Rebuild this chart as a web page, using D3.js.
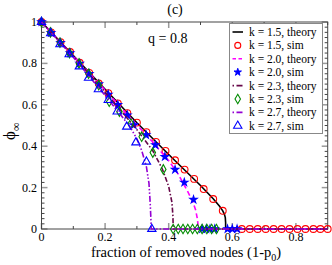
<!DOCTYPE html>
<html>
<head>
<meta charset="utf-8">
<script src="https://d3js.org/d3.v7.min.js"></script>
<style>
  body { margin: 0; background: #fff; }
  text { font-family: "Liberation Serif", "Times New Roman", serif; fill: #000; }
</style>
</head>
<body>
<div id="chart"></div>
<script>
// theory curves [x, phi]
var theory15 = [[0,1],[0.1,0.838],[0.2,0.675],[0.3,0.513],[0.4,0.36],[0.45,0.285],[0.5,0.21],[0.54,0.146],[0.56,0.11],[0.57,0.088],[0.575,0.072],[0.578,0.055],[0.579,0.03],[0.579,0],[0.9,0]];
var theory20 = [[0,1],[0.1,0.836],[0.2,0.67],[0.3,0.503],[0.35,0.42],[0.4,0.33],[0.43,0.265],[0.46,0.18],[0.475,0.135],[0.485,0.09],[0.49,0.05],[0.493,0.01],[0.493,0],[0.9,0]];
var theory23 = [[0,1],[0.1,0.835],[0.2,0.662],[0.3,0.48],[0.35,0.378],[0.38,0.29],[0.4,0.205],[0.41,0.13],[0.413,0.07],[0.414,0.02],[0.414,0],[0.9,0]];
var theory27 = [[0,1],[0.1,0.83],[0.2,0.645],[0.25,0.55],[0.28,0.49],[0.3,0.435],[0.315,0.38],[0.33,0.3],[0.338,0.22],[0.342,0.12],[0.344,0.05],[0.345,0],[0.9,0]];

// simulation points [x, phi]
var sim15 = [[0,1],[0.03,0.95],[0.06,0.903],[0.09,0.855],[0.12,0.803],[0.15,0.754],[0.18,0.703],[0.21,0.656],[0.24,0.607],[0.27,0.56],[0.30,0.514],[0.33,0.468],[0.36,0.421],[0.39,0.377],[0.42,0.332],[0.45,0.287],[0.48,0.242],[0.51,0.193],[0.54,0.145],[0.57,0.088],
  [0.63,0],[0.655,0],[0.68,0],[0.705,0],[0.73,0],[0.755,0],[0.78,0],[0.805,0],[0.83,0],[0.855,0],[0.877,0],[0.9,0]];
var sim20 = [[0,1],[0.03,0.948],[0.06,0.9],[0.09,0.85],[0.12,0.8],[0.15,0.75],[0.18,0.7],[0.21,0.65],[0.24,0.6],[0.27,0.55],[0.29,0.502],[0.329,0.454],[0.358,0.406],[0.388,0.349],[0.42,0.287],[0.449,0.225],[0.478,0.142],
  [0.505,0],[0.518,0],[0.53,0],[0.545,0],[0.585,0],[0.6,0],[0.615,0]];
var sim23 = [[0,1],[0.028,0.95],[0.058,0.9],[0.088,0.85],[0.118,0.8],[0.148,0.75],[0.18,0.695],[0.213,0.615],[0.245,0.567],[0.281,0.51],[0.315,0.446],[0.35,0.369],[0.383,0.288],
  [0.414,0],[0.43,0],[0.445,0],[0.46,0],[0.475,0],[0.49,0],[0.505,0],[0.52,0],[0.535,0],[0.55,0]];
var sim27 = [[0,1],[0.029,0.945],[0.058,0.892],[0.087,0.844],[0.119,0.785],[0.148,0.73],[0.179,0.675],[0.21,0.623],[0.238,0.567],[0.268,0.494],[0.297,0.418],[0.33,0.325],[0.347,0]];

var legendLabels = ["k = 1.5, theory","k = 1.5, sim","k = 2.0, theory","k = 2.0, sim","k = 2.3, theory","k = 2.3, sim","k = 2.7, theory","k = 2.7, sim"];
var xTicks = [0, 0.2, 0.4, 0.6, 0.8];
var yTicks = [0, 0.2, 0.4, 0.6, 0.8, 1];

var width = 332, height = 265;
var svg = d3.select("#chart").append("svg")
  .attr("width", width)
  .attr("height", height);

var x = d3.scaleLinear().domain([0, 0.9]).range([41.5, 327.7]);
var y = d3.scaleLinear().domain([0, 1]).range([229, 22]);

var axisColor = "#444";

// ticks (inward, mirrored)
var xMinor = d3.range(0, 0.901, 0.1);
var yMinor = d3.range(0, 1.0001, 0.025);
var tickG = svg.append("g").attr("stroke", axisColor);
xMinor.forEach(function(v) {
  var major = xTicks.some(function(t) { return Math.abs(t - v) < 1e-6; });
  var len = major ? 6 : 3;
  tickG.append("line").attr("x1", x(v)).attr("x2", x(v)).attr("y1", y(0)).attr("y2", y(0) - len)
    .attr("stroke-width", major ? 1.5 : 1).attr("stroke", major ? "#999" : axisColor);
  tickG.append("line").attr("x1", x(v)).attr("x2", x(v)).attr("y1", y(1)).attr("y2", y(1) + len)
    .attr("stroke-width", major ? 1.5 : 1).attr("stroke", major ? "#999" : axisColor);
});
yMinor.forEach(function(v) {
  var major = yTicks.some(function(t) { return Math.abs(t - v) < 1e-6; });
  var len = major ? 6 : 3;
  tickG.append("line").attr("y1", y(v)).attr("y2", y(v)).attr("x1", x(0)).attr("x2", x(0) + len)
    .attr("stroke-width", major ? 1.5 : 1).attr("stroke", major ? "#999" : axisColor);
  tickG.append("line").attr("y1", y(v)).attr("y2", y(v)).attr("x1", x(0.9)).attr("x2", x(0.9) - len)
    .attr("stroke-width", major ? 1.5 : 1).attr("stroke", major ? "#999" : axisColor);
});

// frame
svg.append("rect")
  .attr("x", x(0)).attr("y", y(1))
  .attr("width", x(0.9) - x(0)).attr("height", y(0) - y(1))
  .attr("fill", "none").attr("stroke", axisColor).attr("stroke-width", 1);

// tick labels
svg.append("g").selectAll("text").data(xTicks).enter().append("text")
  .attr("x", function(d) { return x(d); })
  .attr("y", 241)
  .attr("text-anchor", "middle")
  .attr("font-size", 12)
  .text(function(d) { return d === 0 ? "0" : d3.format(".1f")(d); });

svg.append("g").selectAll("text").data(yTicks).enter().append("text")
  .attr("x", 37)
  .attr("y", function(d) { return y(d) + 4; })
  .attr("text-anchor", "end")
  .attr("font-size", 12)
  .text(function(d) { return d === 0 || d === 1 ? String(d) : d3.format(".1f")(d); });

// curves
var line = d3.line().x(function(d) { return x(d[0]); }).y(function(d) { return y(d[1]); });

var styles = {
  t15: { stroke: "#000", dash: null },
  t20: { stroke: "#ff00ff", dash: "5,3" },
  t23: { stroke: "#670748", dash: "5,2,1.5,2" },
  t27: { stroke: "#9400d3", dash: "6,2,1.5,2,1.5,2" }
};

function drawLine(data, st) {
  svg.append("path").datum(data)
    .attr("d", line)
    .attr("fill", "none")
    .attr("stroke", st.stroke)
    .attr("stroke-width", 1.6)
    .attr("stroke-dasharray", st.dash);
}

var star = d3.symbol().type(d3.symbolStar).size(17);
var tri = d3.symbol().type(d3.symbolTriangle).size(30);
var dia = d3.symbol().type(d3.symbolDiamond).size(26);

function drawCircles(data) {
  svg.append("g").selectAll("circle").data(data).enter().append("circle")
    .attr("cx", function(d) { return x(d[0]); })
    .attr("cy", function(d) { return y(d[1]); })
    .attr("r", 3.4)
    .attr("fill", "none").attr("stroke", "#ff0000").attr("stroke-width", 1.1);
}
function drawSymbols(data, gen, fill, stroke) {
  svg.append("g").selectAll("path").data(data).enter().append("path")
    .attr("transform", function(d) { return "translate(" + x(d[0]) + "," + y(d[1]) + ")"; })
    .attr("d", gen)
    .attr("fill", fill).attr("stroke", stroke).attr("stroke-width", 1.1);
}

drawLine(theory15, styles.t15);
drawCircles(sim15);
drawLine(theory20, styles.t20);
drawSymbols(sim20, star, "#0000ff", "#0000ff");
drawLine(theory23, styles.t23);
drawSymbols(sim23, dia, "none", "#008b00");
drawLine(theory27, styles.t27);
drawSymbols(sim27, tri, "none", "#0000ff");

// legend
var lg = svg.append("g");
lg.append("rect").attr("x", 229.5).attr("y", 23.5).attr("width", 93).attr("height", 110)
  .attr("fill", "#fff").attr("stroke", "#888").attr("stroke-width", 1);
var lx0 = 232.5, lx1 = 243, ly0 = 32, ldy = 13.4;
legendLabels.forEach(function(lab, i) {
  var yy = ly0 + i * ldy;
  if (i === 0) lg.append("line").attr("x1", lx0).attr("x2", lx1).attr("y1", yy).attr("y2", yy).attr("stroke", "#000").attr("stroke-width", 1.6);
  if (i === 2) lg.append("line").attr("x1", lx0).attr("x2", lx1).attr("y1", yy).attr("y2", yy).attr("stroke", "#ff00ff").attr("stroke-width", 1.6).attr("stroke-dasharray", "3.5,2.5");
  if (i === 4) lg.append("line").attr("x1", lx0).attr("x2", lx1).attr("y1", yy).attr("y2", yy).attr("stroke", "#670748").attr("stroke-width", 1.6).attr("stroke-dasharray", "1.5,2.5,6,2");
  if (i === 6) lg.append("line").attr("x1", lx0).attr("x2", lx1).attr("y1", yy).attr("y2", yy).attr("stroke", "#9400d3").attr("stroke-width", 1.6).attr("stroke-dasharray", "1.5,2.5,6,2");
  var cx = (lx0 + lx1) / 2;
  if (i === 1) lg.append("circle").attr("cx", cx).attr("cy", yy).attr("r", 3).attr("fill", "none").attr("stroke", "#ff0000").attr("stroke-width", 1.1);
  if (i === 3) lg.append("path").attr("transform", "translate(" + cx + "," + yy + ")").attr("d", star).attr("fill", "#0000ff").attr("stroke", "#0000ff");
  if (i === 5) lg.append("path").attr("transform", "translate(" + cx + "," + yy + ")").attr("d", dia).attr("fill", "none").attr("stroke", "#008b00").attr("stroke-width", 1.1);
  if (i === 7) lg.append("path").attr("transform", "translate(" + cx + "," + yy + ")").attr("d", tri).attr("fill", "none").attr("stroke", "#0000ff").attr("stroke-width", 1.1);
  lg.append("text").attr("x", 249).attr("y", yy + 4).attr("font-size", 11.5).text(lab);
});

// titles
svg.append("text").attr("x", 175).attr("y", 14).attr("text-anchor", "middle").attr("font-size", 14).text("(c)");
svg.append("text").attr("x", 148).attr("y", 43).attr("font-size", 14).text("q = 0.8");

var xl = svg.append("text").attr("x", 186).attr("y", 257).attr("text-anchor", "middle").attr("font-size", 14.5);
xl.append("tspan").text("fraction of removed nodes (1-p");
xl.append("tspan").attr("font-size", 10).attr("dy", 4).text("0");
xl.append("tspan").attr("dy", -4).text(")");

var yl = svg.append("text").attr("transform", "translate(15,140) rotate(-90)").attr("font-size", 17);
yl.append("tspan").text("\u03D5");
yl.append("tspan").attr("font-size", 12).attr("dy", 5).text("\u221E");
</script>
</body>
</html>
